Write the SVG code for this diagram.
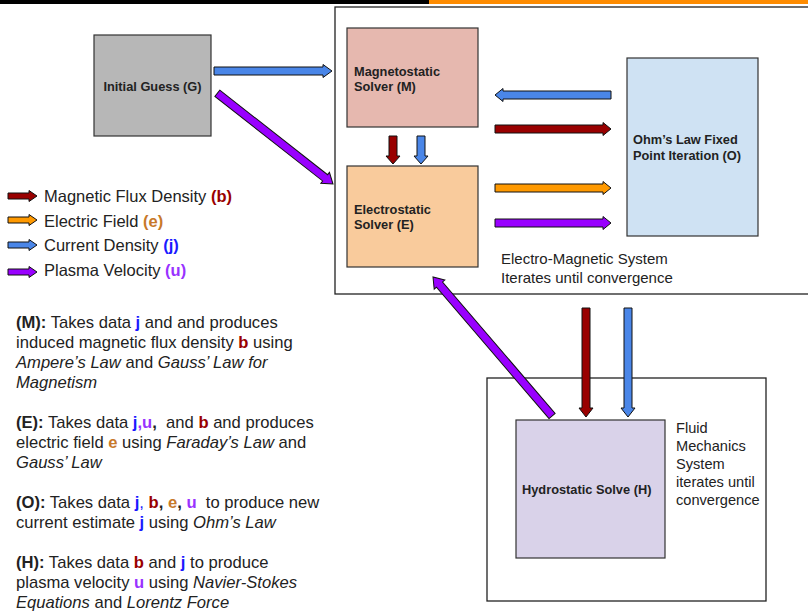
<svg xmlns="http://www.w3.org/2000/svg" width="808" height="612" viewBox="0 0 808 612">
<style>
text{font-family:"Liberation Sans",Arial,sans-serif;fill:#222}
.nt{font-size:12.8px;font-weight:bold}
.sys{fill:#fff;stroke:#222;stroke-width:1.3}
.nd{stroke:#333;stroke-width:1.2}
.ar{stroke:#111;stroke-width:1;stroke-linejoin:miter}
.cb{fill:#990000}.ce{fill:#ff9900}.cj{fill:#4a86e8}.cu{fill:#9900ff}
.lg{font-size:16.5px}
.nw{font-size:16.6px}
.em{font-size:15px}
.fl{font-size:14.6px}
.b{font-weight:bold}
.i{font-style:italic}
.tb{fill:#990000;font-weight:bold}
.te{fill:#c8792a;font-weight:bold}
.tj{fill:#1a1aff;font-weight:bold}
.tu{fill:#9933ff;font-weight:bold}
</style>
<rect x="0" y="0" width="429" height="4" fill="#000"/>
<rect x="429" y="0" width="379" height="4" fill="#ff8c00"/>
<g id="em-system"><rect class="sys" x="335" y="7" width="480" height="287"/>
<text class="em" x="501" y="264">Electro-Magnetic System</text>
<text class="em" x="501" y="283">Iterates until convergence</text></g>
<g id="fluid-system"><rect class="sys" x="487" y="378" width="279" height="223"/>
<text class="fl" x="676" y="433">Fluid</text>
<text class="fl" x="676" y="451">Mechanics</text>
<text class="fl" x="676" y="469">System</text>
<text class="fl" x="676" y="487">iterates until</text>
<text class="fl" x="676" y="505">convergence</text></g>
<g id="node-G"><rect class="nd" x="94" y="35" width="117" height="101" fill="#b7b7b7"/>
<text class="nt" x="152.5" y="90.5" text-anchor="middle">Initial Guess (G)</text></g>
<g id="node-M"><rect class="nd" x="347" y="28" width="131" height="99" fill="#e6b8af"/>
<text class="nt" x="354" y="75.5">Magnetostatic</text>
<text class="nt" x="354" y="90.5">Solver (M)</text></g>
<g id="node-E"><rect class="nd" x="347" y="166" width="131" height="101" fill="#f9cb9c"/>
<text class="nt" x="354" y="214.3">Electrostatic</text>
<text class="nt" x="354" y="229.3">Solver (E)</text></g>
<g id="node-O"><rect class="nd" x="627" y="58" width="131" height="178" fill="#cfe2f3"/>
<text class="nt" x="633" y="144.3">Ohm’s Law Fixed</text>
<text class="nt" x="633" y="160.3">Point Iteration (O)</text></g>
<g id="node-H"><rect class="nd" x="516" y="420" width="149" height="138" fill="#d9d2e9"/>
<text class="nt" x="522" y="494.3">Hydrostatic Solve (H)</text></g>
<g id="connectors">
<polygon class="ar cj" points="214,67 323,67 323,64.5 332,71 323,77.5 323,75 214,75"/>
<polygon class="ar cu" transform="translate(333,184) rotate(38.1)" points="-147,-4 -10,-4 -10,-7 0,0 -10,7 -10,4 -147,4"/>
<polygon class="ar cj" points="611,91 503,91 503,88.5 495,95 503,101.5 503,99 611,99"/>
<polygon class="ar cb" points="495,125 603,125 603,122.5 611,129 603,135.5 603,133 495,133"/>
<polygon class="ar ce" points="495,184 603,184 603,181.5 611,188 603,194.5 603,192 495,192"/>
<polygon class="ar cu" points="495,219 603,219 603,216.5 611,223 603,229.5 603,227 495,227"/>
<polygon class="ar cb" points="389,136 397,136 397,156 400,156 393,164 386,156 389,156"/>
<polygon class="ar cj" points="417,136 425,136 425,156 428,156 421,164 414,156 417,156"/>
<polygon class="ar cb" points="582,308 590,308 590,408 593,408 586,417 579,408 582,408"/>
<polygon class="ar cj" points="624,308 632,308 632,408 635,408 628,417 621,408 624,408"/>
<polygon class="ar cu" transform="translate(433,277) rotate(-130.6)" points="-183,-4 -10,-4 -10,-7 0,0 -10,7 -10,4 -183,4"/>
</g>
<g id="legend">
<polygon class="ar cb" points="8,193 29,193 29,190.5 37,196 29,201.5 29,199 8,199"/>
<polygon class="ar ce" points="8,217 29,217 29,214.5 37,220 29,225.5 29,223 8,223"/>
<polygon class="ar cj" points="8,242 29,242 29,239.5 37,245 29,250.5 29,248 8,248"/>
<polygon class="ar cu" points="8,269 29,269 29,266.5 37,272 29,277.5 29,275 8,275"/>
<text class="lg" x="44" y="202">Magnetic Flux Density <tspan class="tb">(b)</tspan></text>
<text class="lg" x="44" y="227">Electric Field <tspan class="te">(e)</tspan></text>
<text class="lg" x="44" y="251">Current Density <tspan class="tj">(j)</tspan></text>
<text class="lg" x="44" y="276">Plasma Velocity <tspan class="tu">(u)</tspan></text>
</g>
<g id="notes" class="nw">
<text x="16" y="328"><tspan class="b">(M):</tspan> Takes data <tspan class="tj">j</tspan> and and produces</text>
<text x="16" y="348">induced magnetic flux density <tspan class="tb">b</tspan> using</text>
<text x="16" y="368"><tspan class="i">Ampere’s Law</tspan> and <tspan class="i">Gauss’ Law for</tspan></text>
<text x="16" y="388" class="i">Magnetism</text>
<text x="16" y="428" xml:space="preserve"><tspan class="b">(E):</tspan> Takes data <tspan class="tj">j</tspan><tspan class="tu">,u</tspan><tspan class="b">,</tspan>  and <tspan class="tb">b</tspan> and produces</text>
<text x="16" y="448">electric field <tspan class="te">e</tspan> using <tspan class="i">Faraday’s Law</tspan> and</text>
<text x="16" y="468" class="i">Gauss’ Law</text>
<text x="16" y="508" xml:space="preserve"><tspan class="b">(O):</tspan> Takes data <tspan class="tj">j</tspan><tspan fill="#1a1aff">,</tspan> <tspan class="tb">b</tspan><tspan class="b">,</tspan> <tspan class="te">e</tspan><tspan class="b">,</tspan> <tspan class="tu">u</tspan>  to produce new</text>
<text x="16" y="528">current estimate <tspan class="tj">j</tspan> using <tspan class="i">Ohm’s Law</tspan></text>
<text x="16" y="568"><tspan class="b">(H):</tspan> Takes data <tspan class="tb">b</tspan> and <tspan class="tj">j</tspan> to produce</text>
<text x="16" y="588">plasma velocity <tspan class="tu">u</tspan> using <tspan class="i">Navier-Stokes</tspan></text>
<text x="16" y="608"><tspan class="i">Equations</tspan> and <tspan class="i">Lorentz Force</tspan></text>
</g>
</svg>
